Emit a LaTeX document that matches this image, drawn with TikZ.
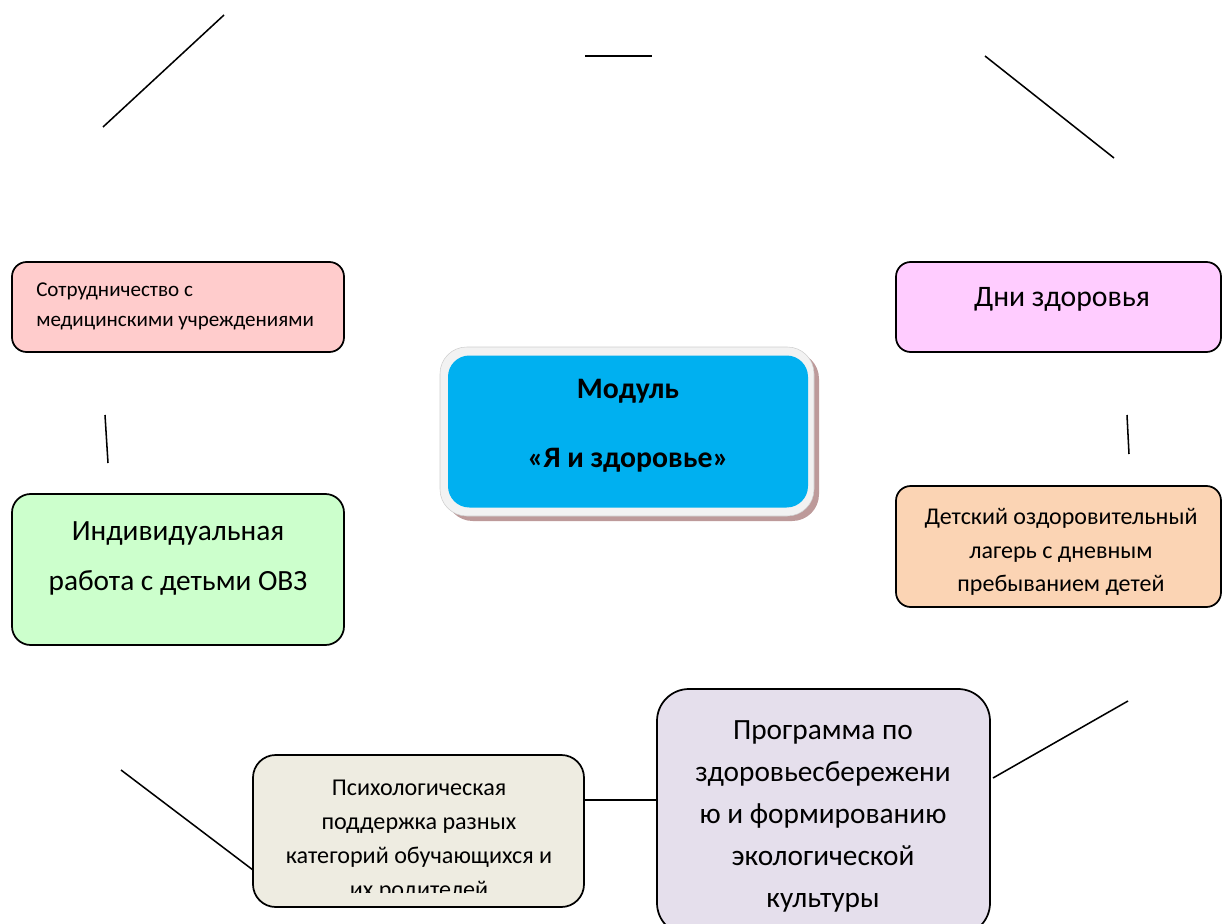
\documentclass[tikz,border=0pt]{standalone}
\usepackage{fontspec}
\setmainfont{Carlito}
\definecolor{cpink}{HTML}{FFCCCC}
\definecolor{cmag}{HTML}{FFCCFF}
\definecolor{cgreen}{HTML}{CCFFCC}
\definecolor{corange}{HTML}{FBD4B4}
\definecolor{cpsy}{HTML}{EEECE1}
\definecolor{cprog}{HTML}{E5DFEC}
\definecolor{cblue}{HTML}{00B0F0}
\definecolor{cframe}{HTML}{F2F2F2}
\definecolor{cshadow}{HTML}{BD9A9A}
\begin{document}
\begin{tikzpicture}[x=0.75pt,y=-0.75pt,
  box/.style={draw=black, line width=1.3pt, rounded corners=11pt, inner sep=0pt},
  conn/.style={line width=1.15pt, draw=black},
  txt/.style={inner sep=0pt, align=center, text=black}]
\useasboundingbox (0,0) rectangle (1222,924);

% connectors (free-floating lines)
\coordinate (a1) at (103,127); \coordinate (b1) at (224,15);
\coordinate (a2) at (585,56);  \coordinate (b2) at (652,56);
\coordinate (a3) at (985,56);  \coordinate (b3) at (1114,158);
\coordinate (a4) at (105,415); \coordinate (b4) at (108,463);
\coordinate (a5) at (1127,415);\coordinate (b5) at (1129,454);
\coordinate (a6) at (121,770); \coordinate (b6) at (253,870);
\coordinate (y7) at (0,800);
\coordinate (a8) at (993,778); \coordinate (b8) at (1128,701);

% central module
\fill[cshadow, rounded corners=20pt] (446,352) rectangle (819,521);
\filldraw[fill=cframe, draw=cframe!85!black, line width=0.4pt, rounded corners=20pt] (440,347) rectangle (814,516);
\node[fill=cblue, rounded corners=16pt, minimum width=270pt, minimum height=114pt, inner sep=0pt] (center) at (628,431.5) {};
\node[txt, font=\fontsize{22.3}{52}\selectfont\bfseries] (centertxt) at (628,426) {Модуль\\«Я и здоровье»};

% boxes
\node[box, fill=cpink, minimum width=249pt, minimum height=67.5pt] (coop) at (178,307) {};
\node[txt, align=left, anchor=west, font=\fontsize{15.8}{22.5}\selectfont] (cooptxt) at (36,306) {Сотрудничество с\\медицинскими учреждениями};

\node[box, fill=cmag, minimum width=243.75pt, minimum height=67.5pt] (days) at (1058.5,307) {};
\node[txt, font=\fontsize{22.3}{26}\selectfont] (daystxt) at (1062,299) {Дни здоровья};

\node[box, fill=cgreen, rounded corners=14pt, minimum width=249pt, minimum height=113.25pt] (ind) at (178,569.5) {};
\node[txt, font=\fontsize{22}{37.5}\selectfont] (indtxt) at (178,558) {Индивидуальная\\работа с детьми ОВЗ};

\node[box, fill=corange, minimum width=243.75pt, minimum height=90.75pt] (camp) at (1058.5,546.5) {};
\begin{scope}
\clip (896,486) rectangle (1221,598);
\node[txt, font=\fontsize{18}{25}\selectfont] (camptxt) at (1061,552) {Детский оздоровительный\\лагерь с дневным\\пребыванием детей};
\end{scope}

\node[box, fill=cpsy, rounded corners=17pt, minimum width=248.25pt, minimum height=114pt] (psy) at (418.5,831) {};
\begin{scope}
\clip (253,755) rectangle (584,892);
\node[txt, font=\fontsize{18.1}{25.5}\selectfont] (psytxt) at (419,841) {Психологическая\\поддержка разных\\категорий обучающихся и\\их родителей};
\end{scope}

\node[box, fill=cprog, rounded corners=24pt, minimum width=249.75pt, minimum height=184.5pt] (prog) at (823.5,812) {};
\node[txt, font=\fontsize{22}{31.5}\selectfont] (progtxt) at (823,816) {Программа по\\здоровьесбережени\\ю и формированию\\экологической\\культуры};

% lines
\draw[conn] (a1) -- (b1);
\draw[conn] (a2) -- (b2);
\draw[conn] (a3) -- (b3);
\draw[conn] (a4) -- (b4);
\draw[conn] (a5) -- (b5);
\draw[conn] (a6) -- (b6);
\draw[conn] (psy.east |- y7) -- (prog.west |- y7);
\draw[conn] (a8) -- (b8);
\end{tikzpicture}
\end{document}
